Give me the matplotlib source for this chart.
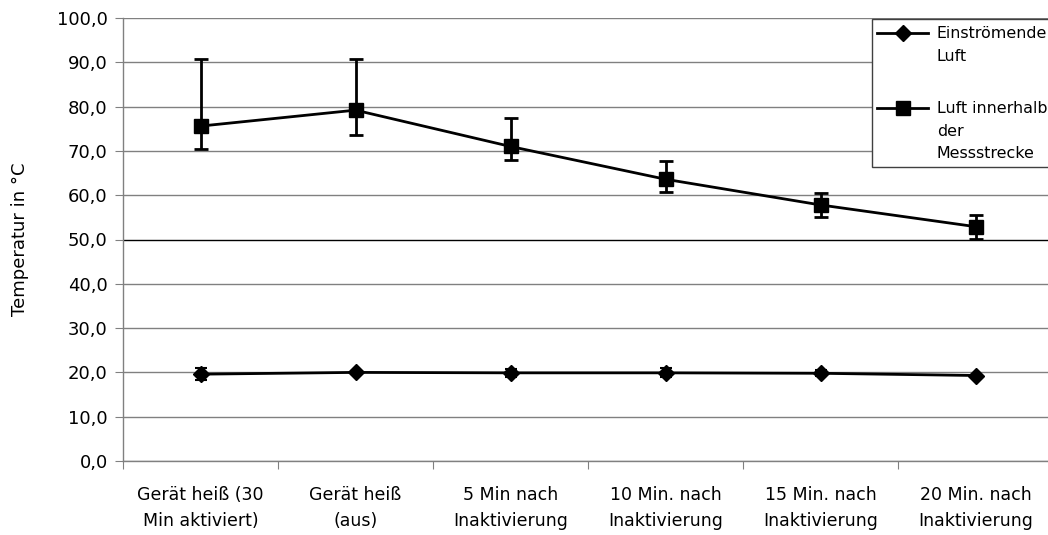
import matplotlib
matplotlib.use("Agg")
import matplotlib.pyplot as plt
from matplotlib.lines import Line2D
from matplotlib.patches import Rectangle
import numpy as np

plt.rcParams['font.family'] = ['DejaVu Sans']

categories = ["Gerät heiß (30\nMin aktiviert)", "Gerät heiß\n(aus)",
              "5 Min nach\nInaktivierung", "10 Min. nach\nInaktivierung",
              "15 Min. nach\nInaktivierung", "20 Min. nach\nInaktivierung"]

luft_ein = [19.6, 20.0, 19.9, 19.9, 19.8, 19.3]
luft_ein_err = [1.3, 0.3, 0.9, 1.0, 0.7, 0.2]

luft_innen = [75.6, 79.2, 71.0, 63.6, 57.8, 52.9]
luft_innen_lo = [70.4, 73.5, 67.9, 60.7, 55.1, 50.1]
luft_innen_hi = [90.7, 90.7, 77.5, 67.7, 60.4, 55.5]

legend_labels = ["Einströmende\nLuft", "Luft innerhalb\nder\nMessstrecke"]

W, H = 1048, 535
x = np.arange(len(categories))
err_lo = np.array(luft_innen) - np.array(luft_innen_lo)
err_hi = np.array(luft_innen_hi) - np.array(luft_innen)

fig = plt.figure(figsize=(W / 100, H / 100), dpi=100)
ax = fig.add_axes([123 / W, 74 / H, 930 / W, 443 / H])

ein_style = dict(color="black", lw=2, marker="D", ms=8)
innen_style = dict(color="black", lw=2, marker="s", ms=10)

ax.errorbar(x, luft_ein, yerr=luft_ein_err, capsize=4, capthick=1.5,
            elinewidth=1.5, zorder=3, **ein_style)
ax.errorbar(x, luft_innen, yerr=[err_lo, err_hi], capsize=5, capthick=2,
            elinewidth=2, zorder=3, **innen_style)

ax.set_xlim(-0.5, len(categories) - 0.5)
ax.set_ylim(0, 100)
yt = np.arange(0, 101, 10)
ax.set_yticks(yt)
ax.set_yticklabels([f"{v:.1f}".replace(".", ",") for v in yt])
ax.yaxis.grid(True, color="#808080", lw=1.0)
ax.set_axisbelow(True)
for gl, v in zip(ax.get_ygridlines(), yt):
    if v == 50:
        gl.set_color("black")

# category labels sit between the boundary ticks
ax.set_xticks(np.arange(len(categories) + 1) - 0.5)
ax.set_xticklabels([])
ax.set_xticks(x, minor=True)
ax.set_xticklabels(categories, minor=True, fontsize=12.5, linespacing=1.6)
ax.tick_params(axis="x", which="minor", length=0, pad=18)
ax.tick_params(axis="x", which="major", length=6, color="#808080")
ax.tick_params(axis="y", length=6, color="#808080", labelsize=13, pad=5)

for side in ["top", "right"]:
    ax.spines[side].set_visible(False)
for side in ["left", "bottom"]:
    ax.spines[side].set_color("#808080")
    ax.spines[side].set_linewidth(1.0)

ax.set_ylabel("Temperatur in °C", fontsize=13, labelpad=20)

# legend box, running past the right edge
def fx(px):
    return px / W

def fy(py):
    return 1 - py / H

fig.add_artist(Rectangle((fx(872), fy(167)), fx(1100) - fx(872), fy(19) - fy(167),
                         transform=fig.transFigure, facecolor="white",
                         edgecolor="#404040", lw=1.0, zorder=5))
for label, style, ypx in zip(legend_labels, [ein_style, innen_style], [33, 108]):
    fig.add_artist(Line2D([fx(877), fx(928)], [fy(ypx), fy(ypx)],
                          transform=fig.transFigure, zorder=6,
                          markevery=[], **style))
    fig.add_artist(Line2D([fx(902.5)], [fy(ypx)], transform=fig.transFigure,
                          zorder=6, **style))
    fig.text(fx(937), fy(ypx - 7), label, fontsize=11.4, va="top", ha="left",
             linespacing=1.64, zorder=7)

fig.savefig("out.png", dpi=100)
